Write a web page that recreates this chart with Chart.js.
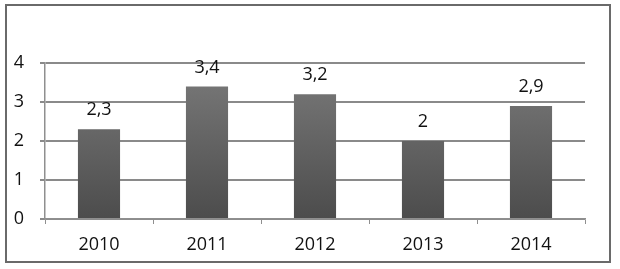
<!DOCTYPE html>
<html>
<head>
<meta charset="utf-8">
<script src="https://cdn.jsdelivr.net/npm/chart.js@4.4.0/dist/chart.umd.min.js"></script>
<style>
html,body{margin:0;padding:0;background:#fff;}
#wrap{position:relative;width:620px;height:269px;}
</style>
</head>
<body>
<div id="wrap"><canvas id="c" width="620" height="269"></canvas></div>
<script>
const categories = ["2010", "2011", "2012", "2013", "2014"];
const values = [2.3, 3.4, 3.2, 2, 2.9];
const yTicks = [0, 1, 2, 3, 4];

const FONT = "'Open Sans', 'DejaVu Sans', sans-serif";

const framePlugin = {
  id: 'frame',
  beforeDraw(chart) {
    const ctx = chart.ctx;
    ctx.save();
    ctx.fillStyle = '#fff';
    ctx.fillRect(0, 0, chart.width, chart.height);
    ctx.strokeStyle = '#6a6a6a';
    ctx.lineWidth = 2;
    ctx.strokeRect(6, 5, 604, 257);
    ctx.restore();
  }
};

const labelPlugin = {
  id: 'valueLabels',
  afterDatasetsDraw(chart) {
    const ctx = chart.ctx;
    const meta = chart.getDatasetMeta(0);
    ctx.save();
    ctx.font = "18px " + FONT;
    ctx.fillStyle = '#111';
    ctx.textAlign = 'center';
    ctx.textBaseline = 'middle';
    meta.data.forEach((bar, i) => {
      const txt = String(values[i]).replace('.', ',');
      ctx.fillText(txt, bar.x, bar.y - 19);
    });
    ctx.restore();
  }
};

new Chart(document.getElementById('c'), {
  type: 'bar',
  data: {
    labels: categories,
    datasets: [{
      data: values,
      backgroundColor(context) {
        const chart = context.chart;
        const area = chart.chartArea;
        if (!area) return '#606060';
        const g = chart.ctx.createLinearGradient(0, area.top, 0, area.bottom);
        g.addColorStop(0, '#7b7b7b');
        g.addColorStop(1, '#4c4c4c');
        return g;
      },
      borderWidth: 0,
      categoryPercentage: 1,
      barPercentage: 0.39
    }]
  },
  options: {
    responsive: false,
    animation: false,
    devicePixelRatio: 1,
    layout: { padding: { left: 0, top: 63, right: 35, bottom: 0 } },
    plugins: { legend: { display: false }, tooltip: { enabled: false } },
    scales: {
      x: {
        offset: true,
        grid: {
          offset: true,
          drawOnChartArea: false,
          drawTicks: true,
          tickLength: 5,
          color: '#8f8f8f',
          lineWidth: 1
        },
        border: { display: true, color: '#8f8f8f', width: 1.5 },
        ticks: {
          color: '#111',
          font: { family: FONT, size: 18 },
          padding: 10
        },
        afterFit(scale) { scale.height = 50; }
      },
      y: {
        min: 0,
        max: 4,
        afterBuildTicks(scale) { scale.ticks = yTicks.map(v => ({ value: v })); },
        grid: {
          color: '#8a8a8a',
          lineWidth: 2,
          drawTicks: true,
          tickLength: 5
        },
        border: { display: true, color: '#8f8f8f', width: 1.5 },
        ticks: {
          color: '#111',
          font: { family: FONT, size: 18 },
          padding: 16
        },
        afterFit(scale) { scale.width = 45; }
      }
    }
  },
  plugins: [framePlugin, labelPlugin]
});
</script>
</body>
</html>
